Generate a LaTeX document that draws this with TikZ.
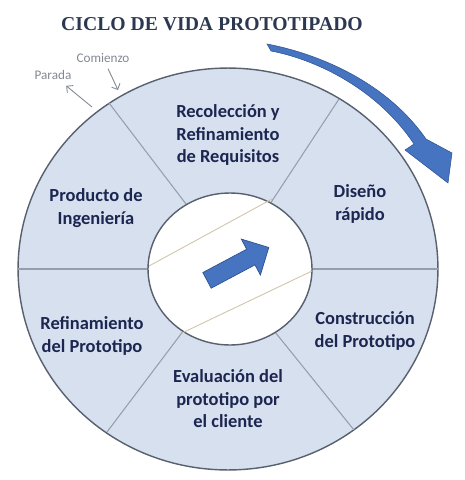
\documentclass[tikz,border=0pt]{standalone}
\usepackage{fontspec}
\setmainfont{Carlito}
\newfontfamily\titlefont{Liberation Serif}
\usepackage{xcolor}
\usepackage{tikz}
\usetikzlibrary{arrows,shapes.arrows}

\definecolor{ringfill}{RGB}{214,224,238}
\definecolor{ringedge}{RGB}{88,96,110}
\definecolor{divline}{RGB}{150,158,172}
\definecolor{labeltext}{RGB}{28,38,80}
\definecolor{titletext}{RGB}{44,56,80}
\definecolor{arrowblue}{RGB}{70,116,192}
\definecolor{arrowdark}{RGB}{46,82,146}
\definecolor{hinttext}{RGB}{130,136,146}
\definecolor{tanline}{RGB}{208,198,172}

\begin{document}
\begin{tikzpicture}[x=0.02cm,y=-0.02cm,
		phase/.style={font=\bfseries\fontsize{10.5}{12.8}\selectfont,text=labeltext,align=center},
		hint/.style={font=\fontsize{7.5}{9}\selectfont,text=hinttext}]
		\useasboundingbox (0,0) rectangle (465,480);
		%
		\node (T) at (212,24) {\titlefont\bfseries\fontsize{11.2}{13}\selectfont\color{titletext}CICLO DE VIDA PROTOTIPADO};
		%
		\filldraw[fill=ringfill,draw=ringedge,line width=0.8pt] (228,269) ellipse (4.2cm and 4.02cm);
		\draw[divline,line width=0.6pt] (109,103) -- (186,204);
		\draw[divline,line width=0.6pt] (339,99) -- (270,204);
		\draw[divline,line width=0.6pt] (18,269) -- (155,269);
		\draw[divline,line width=0.6pt] (438,269) -- (305,269);
		\draw[divline,line width=0.6pt] (354,430) -- (275,332);
		\draw[divline,line width=0.6pt] (107,432) -- (184,330);
		\filldraw[fill=white,draw=ringedge,line width=0.8pt] (230,269) ellipse (1.64cm and 1.52cm);
		\draw[tanline,line width=0.5pt] (149,266) -- (272,199);
		\draw[tanline,line width=0.5pt] (312,271) -- (182,333);
		%
		\node[single arrow,fill=arrowblue,draw=arrowdark,line width=0.4pt,
			inner xsep=0pt,inner ysep=0.17cm,minimum height=1.4cm,
			single arrow head extend=0.23cm,rotate=28] (M) at (234,266) {};
		%
		\filldraw[fill=arrowblue,draw=arrowdark,line width=0.3pt]
			(267,44) .. controls (315,53) and (385,80) .. (426,139)
			-- (452,153) -- (448,183) -- (405,150) -- (414,144)
			.. controls (378,90) and (318,60) .. (271,51) -- cycle;
		%
		\node[phase] (R) at (228,135) {Recolección y\\Refinamiento\\de Requisitos};
		\node[phase] (D) at (360,204) {Diseño\\rápido};
		\node[phase] (C) at (365,331) {Construcción\\del Prototipo};
		\node[phase] (E) at (228,399) {Evaluación del\\prototipo por\\el cliente};
		\node[phase] (F) at (92,336) {Refinamiento\\del Prototipo};
		\node[phase] (P) at (96,208) {Producto de\\Ingeniería};
		%
		\node[hint] (S) at (103,58) {Comienzo};
		\node[hint] (Q) at (53,75) {Parada};
		\coordinate (s1) at (118,90);
		\coordinate (q1) at (92,107);
		\path[->,hinttext,line width=0.5pt,>=angle 90]
		(S) edge (s1)
		(q1) edge (Q);
\end{tikzpicture}
\end{document}
